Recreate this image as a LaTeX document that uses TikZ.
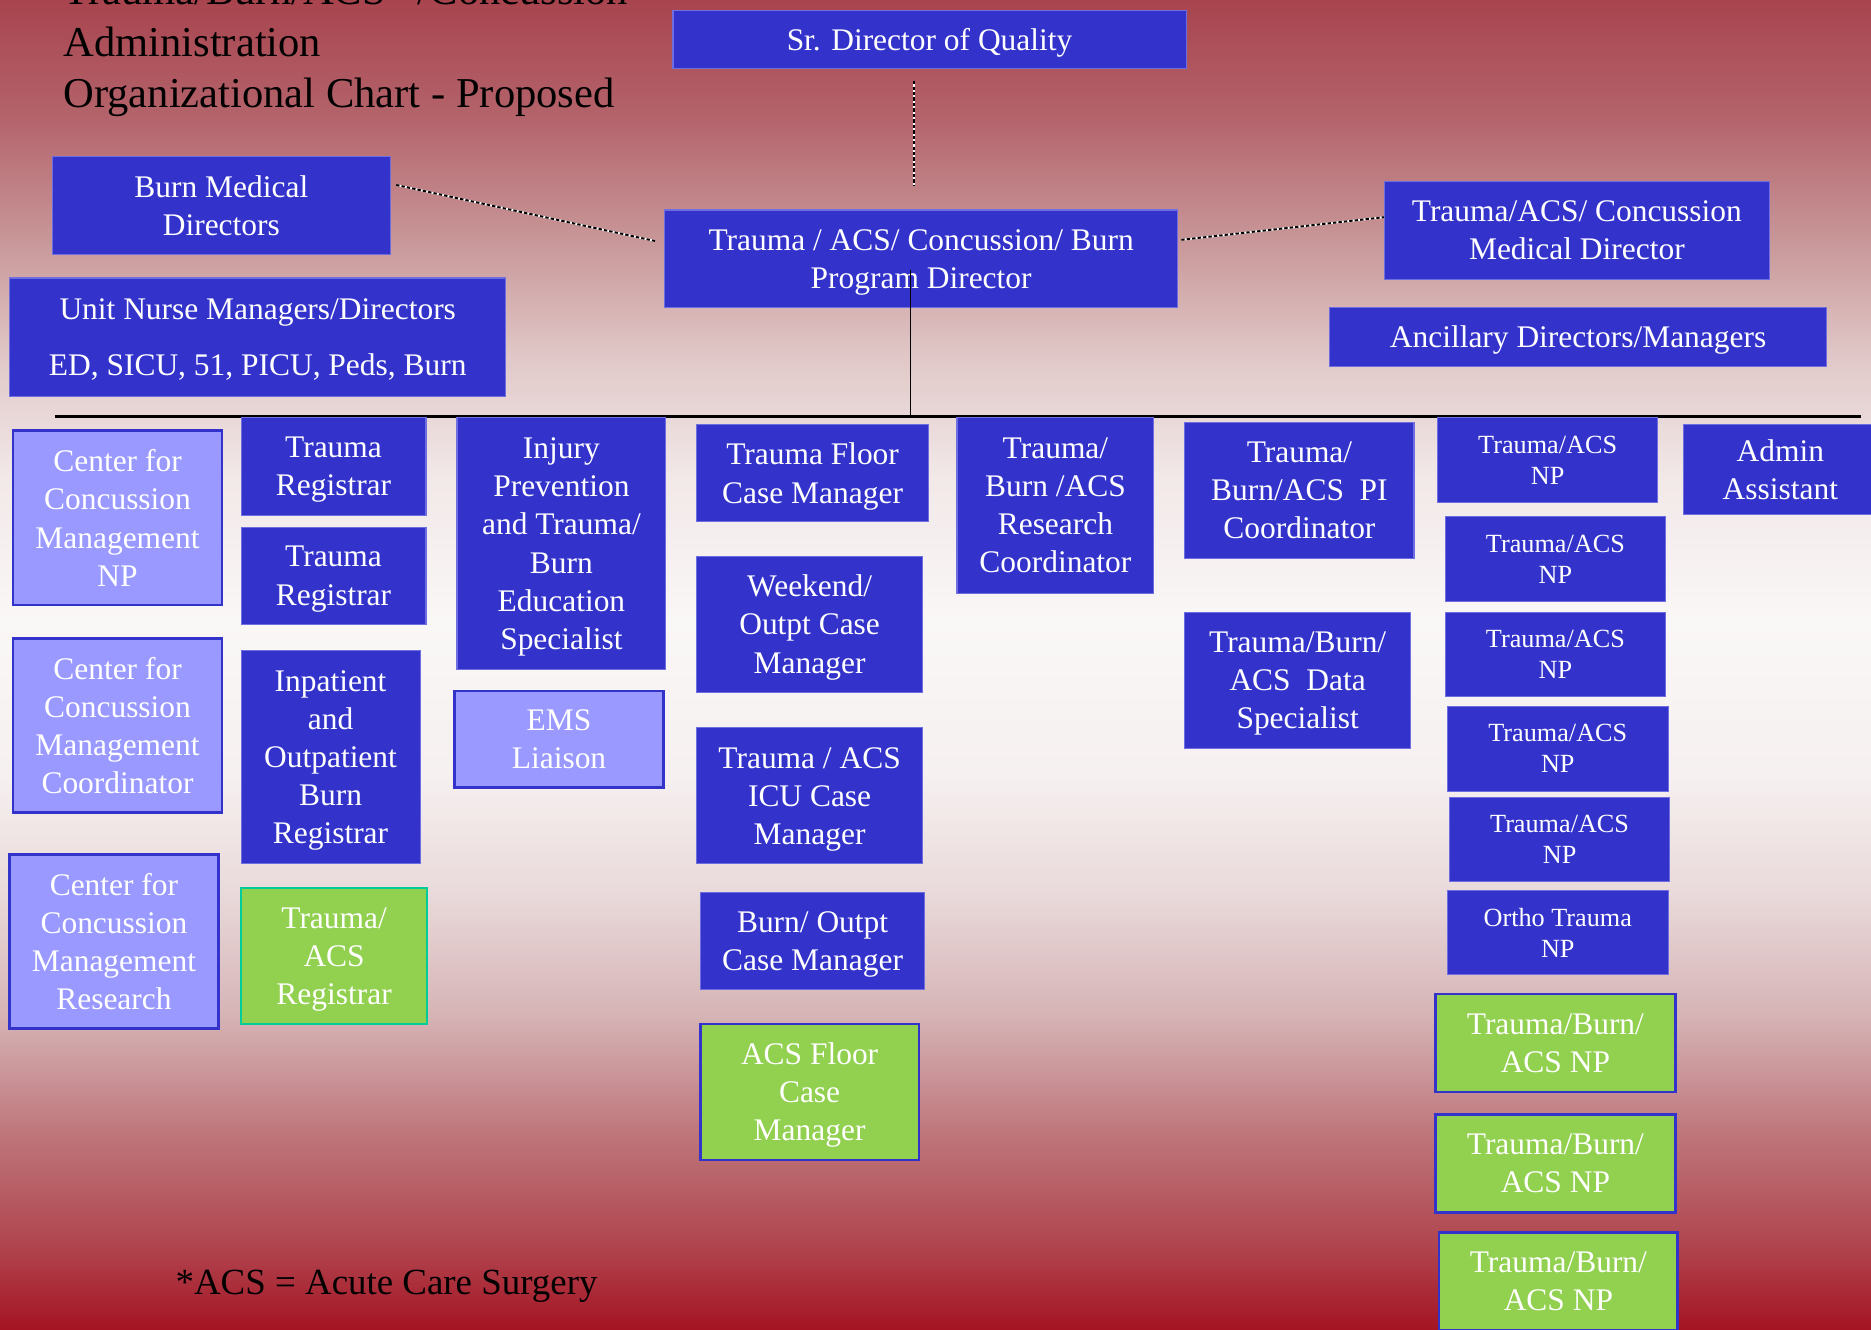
\documentclass[tikz,border=0pt]{standalone}
\usepackage{fontspec}
\setmainfont{Liberation Serif}
\usetikzlibrary{positioning}

\definecolor{boxblue}{RGB}{51,51,204}
\definecolor{boxedge}{RGB}{110,110,225}
\definecolor{lightblue}{RGB}{153,153,255}
\definecolor{boxgreen}{RGB}{146,208,80}
\definecolor{tealedge}{RGB}{0,204,153}
\definecolor{bgA}{RGB}{168,68,78}
\definecolor{bgB}{RGB}{180,100,108}
\definecolor{bgC}{RGB}{200,150,152}
\definecolor{bgD}{RGB}{225,200,200}
\definecolor{bgE}{RGB}{242,232,232}
\definecolor{bgF}{RGB}{250,247,247}
\definecolor{bgG}{RGB}{246,240,240}
\definecolor{bgH}{RGB}{233,217,218}
\definecolor{bgI}{RGB}{214,180,182}
\definecolor{bgJ}{RGB}{190,118,123}
\definecolor{bgK}{RGB}{175,65,75}
\definecolor{bgL}{RGB}{165,20,35}

\pgfdeclareverticalshading{backdrop}{100bp}{color(0bp)=(bgL); color(25bp)=(bgL);
  color(27.87bp)=(bgK); color(32.36bp)=(bgJ); color(36.85bp)=(bgI); color(41.34bp)=(bgH);
  color(45.83bp)=(bgG); color(51.66bp)=(bgF); color(57.05bp)=(bgE); color(61.53bp)=(bgD);
  color(66.02bp)=(bgC); color(70.51bp)=(bgB); color(75bp)=(bgA); color(100bp)=(bgA)}

\tikzset{
  boxsize/.style 2 args={minimum width=#1*0.02cm, minimum height=#2*0.02cm},
  bluebox/.style={rectangle, fill=boxblue, draw=boxedge, line width=0.5pt, text=white,
    inner sep=0pt, text depth=0pt, align=center, font=\fontsize{15}{18.2}\selectfont},
  lightbox/.style={bluebox, fill=lightblue, draw=boxblue, line width=1.2pt},
  greenbox/.style={bluebox, fill=boxgreen, draw=boxblue, line width=1.2pt},
  npbox/.style={bluebox, font=\fontsize{12.5}{14.8}\selectfont},
  dotline/.style={draw=black, line width=0.9pt, dash pattern=on 1.6pt off 1pt,
    preaction={draw=white, solid, line width=0.9pt}},
  busline/.style={draw=black, line width=1.1pt}
}

\begin{document}
\begin{tikzpicture}[x=0.02cm, y=-0.02cm]
  \useasboundingbox (0,0) rectangle (1568,1114);
  \shade[shading=backdrop] (0,0) rectangle (1568,1114);

  \node[anchor=west, align=left, font=\fontsize{20.3}{24.6}\selectfont] (title) at (47,39)
    {Trauma/Burn/ACS* /Concussion\\Administration\\Organizational Chart - Proposed};

  \node[bluebox, boxsize={430}{49}] (quality) at (779,33) {Sr. Director of Quality};
  \node[bluebox, boxsize={430}{82}] (program) at (772,217) {Trauma / ACS/ Concussion/ Burn\\Program Director};
  \node[bluebox, boxsize={283}{82}] (burnmed) at (185.5,172) {Burn Medical\\Directors};
  \node[bluebox, boxsize={323}{82}] (medical) at (1321.5,193) {Trauma/ACS/ Concussion\\Medical Director};
  \node[bluebox, boxsize={417}{49}] (ancillary) at (1322.5,282.5) {Ancillary Directors/Managers};
  \node[bluebox, boxsize={416}{99}] (unitnurse) at (216,282.5) {Unit Nurse Managers/Directors\\[8.5pt]ED, SICU, 51, PICU, Peds, Burn};

  \coordinate (qtop) at (766,68);
  \coordinate (qbot) at (766,156);
  \coordinate (bleft) at (332,155);
  \coordinate (bright) at (549,202);
  \coordinate (mleft) at (990,201);
  \coordinate (mright) at (1160,182);
  \coordinate (ptop) at (763,226);
  \coordinate (pjoin) at (763,349);
  \coordinate (busL) at (46,349);
  \coordinate (busR) at (1560,349);
  \draw[dotline, line width=0.6pt] (qtop) -- (qbot);
  \draw[dotline] (bleft) -- (bright);
  \draw[dotline] (mleft) -- (mright);
  \draw[line width=0.6pt] (ptop) -- (pjoin);
  \draw[busline] (busL) -- (busR);

  \node[lightbox, boxsize={175}{146}] (ccmnp) at (98.5,434) {Center for\\Concussion\\Management\\NP};
  \node[lightbox, boxsize={175}{146}] (ccmcoord) at (98.5,608) {Center for\\Concussion\\Management\\Coordinator};
  \node[lightbox, boxsize={175}{146}] (ccmres) at (95.5,789) {Center for\\Concussion\\Management\\Research};

  \node[bluebox, boxsize={155}{82}] (registrarA) at (279.5,391) {Trauma\\Registrar};
  \node[bluebox, boxsize={155}{81}] (registrarB) at (279.5,482.5) {Trauma\\Registrar};
  \node[bluebox, boxsize={150}{179}] (burnreg) at (277,634.5) {Inpatient\\and\\Outpatient\\Burn\\Registrar};
  \node[greenbox, draw=tealedge, boxsize={156}{114}] (acsreg) at (280,801) {Trauma/\\ACS\\Registrar};

  \node[bluebox, boxsize={175}{211}] (injury) at (470.5,455.5) {Injury\\Prevention\\and Trauma/\\Burn\\Education\\Specialist};
  \node[lightbox, boxsize={175}{81}] (ems) at (468.5,619.5) {EMS\\Liaison};

  \node[bluebox, boxsize={194}{81}] (floorcm) at (681,396.5) {Trauma Floor\\Case Manager};
  \node[bluebox, boxsize={189}{114}] (weekendcm) at (678.5,523) {Weekend/\\Outpt Case\\Manager};
  \node[bluebox, boxsize={189}{114}] (icucm) at (678.5,667) {Trauma / ACS\\ICU Case\\Manager};
  \node[bluebox, boxsize={188}{81}] (burncm) at (681,788.5) {Burn/ Outpt\\Case Manager};
  \node[greenbox, boxsize={183}{114}] (acscm) at (678.5,915) {ACS Floor\\Case\\Manager};

  \node[bluebox, boxsize={165}{147}] (research) at (884.5,423.5) {Trauma/\\Burn /ACS\\Research\\Coordinator};

  \node[bluebox, boxsize={192}{114}] (picoord) at (1089,411) {Trauma/\\Burn/ACS\ \ PI\\Coordinator};
  \node[bluebox, boxsize={189}{114}] (dataspec) at (1087.5,570) {Trauma/Burn/\\ACS\ \ Data\\Specialist};

  \node[npbox, boxsize={184}{71}] (npA) at (1297,385.5) {Trauma/ACS\\NP};
  \node[npbox, boxsize={185}{71}] (npB) at (1303.5,468.5) {Trauma/ACS\\NP};
  \node[npbox, boxsize={185}{71}] (npC) at (1303.5,548.5) {Trauma/ACS\\NP};
  \node[npbox, boxsize={185}{71}] (npD) at (1305.5,627.5) {Trauma/ACS\\NP};
  \node[npbox, boxsize={184}{71}] (npE) at (1307,703.5) {Trauma/ACS\\NP};
  \node[npbox, boxsize={185}{71}] (ortho) at (1305.5,781.5) {Ortho Trauma\\NP};
  \node[greenbox, boxsize={201}{82}] (burnnpA) at (1303.5,874) {Trauma/Burn/\\ACS NP};
  \node[greenbox, boxsize={201}{82}] (burnnpB) at (1303.5,975) {Trauma/Burn/\\ACS NP};
  \node[greenbox, boxsize={200}{82}] (burnnpC) at (1306,1074) {Trauma/Burn/\\ACS NP};

  \node[bluebox, boxsize={162}{75}] (admin) at (1492,393.5) {Admin\\Assistant};

  \node[anchor=west, font=\fontsize{17.6}{21}\selectfont] (note) at (141,1078) {*ACS = Acute Care Surgery};
\end{tikzpicture}
\end{document}
